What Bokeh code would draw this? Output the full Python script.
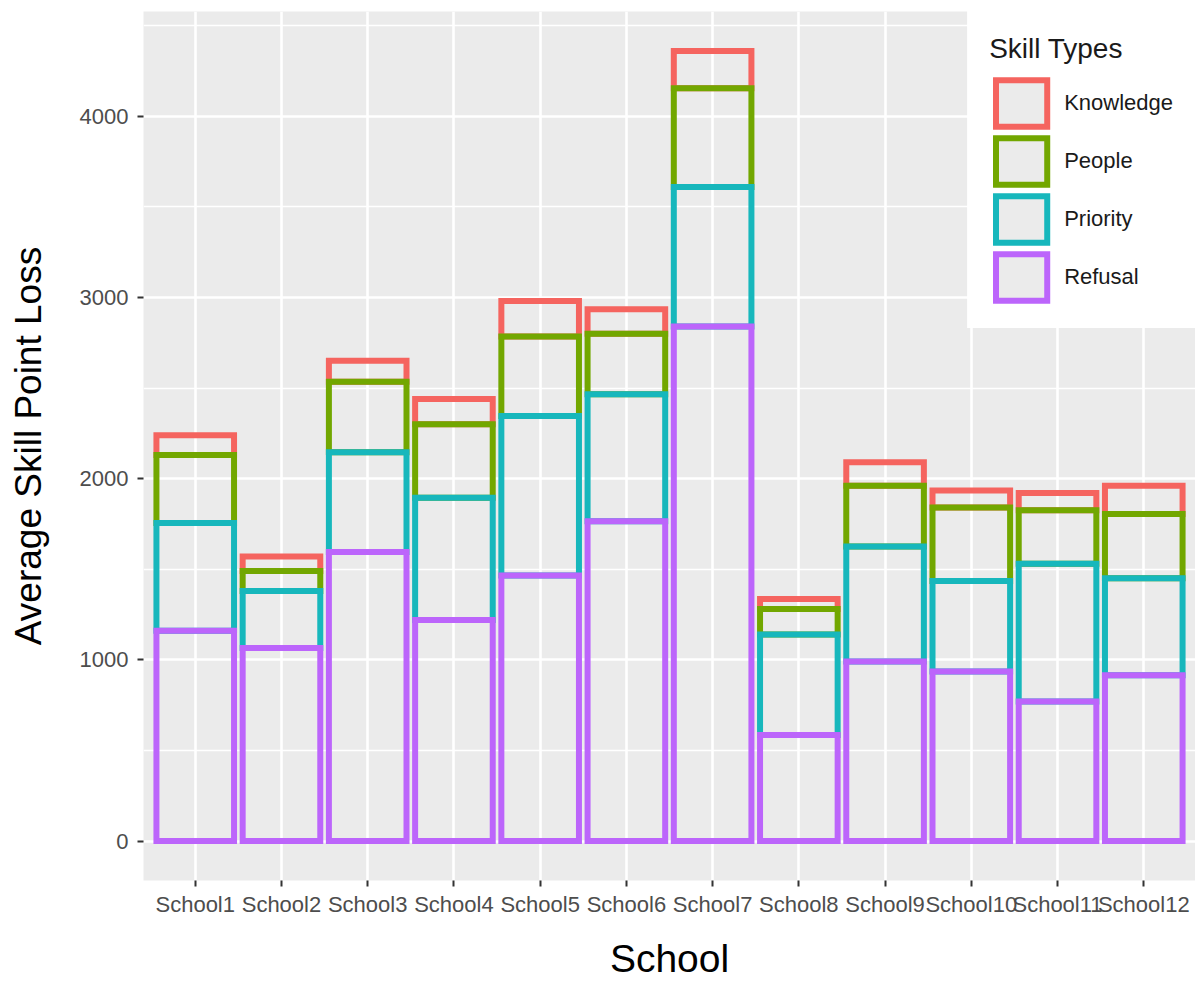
from bokeh.plotting import figure
from bokeh.models import (ColumnDataSource, FactorRange, Range1d, FixedTicker,
                          Legend, LegendItem)
from bokeh.embed import file_html
from bokeh.resources import INLINE

# ---- data ----
schools = ["School1", "School2", "School3", "School4", "School5", "School6",
           "School7", "School8", "School9", "School10", "School11", "School12"]
refusal = [1160, 1065, 1595, 1220, 1465, 1765, 2840, 585, 990, 935, 770, 915]
priority = [595, 315, 550, 675, 880, 700, 770, 555, 635, 500, 760, 535]
people = [375, 110, 390, 405, 440, 335, 545, 140, 335, 405, 295, 355]
knowledge = [110, 80, 115, 140, 195, 135, 205, 55, 130, 95, 95, 155]

skill_types = ["Knowledge", "People", "Priority", "Refusal"]
colors = {"Knowledge": "#F5645F", "People": "#72A700",
          "Priority": "#17B7BC", "Refusal": "#BC65FB"}
y_ticks = [0, 1000, 2000, 3000, 4000]
y_minor = [500, 1500, 2500, 3500, 4500]

FONT = "Liberation Sans"
W, H = 1195, 984
BORDER_L, BORDER_T, BORDER_B = 143, 11, 104

# stacked segments: Refusal at the bottom, Knowledge on top
series = {"Refusal": refusal, "Priority": priority,
          "People": people, "Knowledge": knowledge}
data = {"school": schools}
base = [0] * len(schools)
for name in ["Refusal", "Priority", "People", "Knowledge"]:
    top = [b + v for b, v in zip(base, series[name])]
    data[name + "_bottom"] = base
    data[name + "_top"] = top
    base = top
source = ColumnDataSource(data)

ymax = max(base)
pad = 0.05 * ymax

p = figure(
    x_range=FactorRange(factors=schools, range_padding=0.2 / len(schools),
                        range_padding_units="percent"),
    y_range=Range1d(-pad, ymax + pad),
    width=W, height=H,
    output_backend="svg", toolbar_location=None,
    background_fill_color="#EBEBEB", border_fill_color="white",
    outline_line_color=None,
    min_border=0, min_border_left=BORDER_L, min_border_top=BORDER_T,
    min_border_right=0, min_border_bottom=BORDER_B,
)

# draw Knowledge first so lower segments' edges sit on top
for name in skill_types:
    p.vbar(x="school", bottom=name + "_bottom", top=name + "_top", width=0.9,
           source=source, fill_color=None, line_color=colors[name],
           line_width=6, line_join="miter")

# hidden proxies that give the legend keys their grey fill
proxies = {}
for name in skill_types:
    proxies[name] = p.vbar(
        x="school", bottom=name + "_bottom", top=name + "_top", width=0.9,
        source=source, fill_color="#EBEBEB", line_color=colors[name],
        line_width=6, line_join="miter", visible=False)

legend = Legend(
    items=[LegendItem(label=n, renderers=[proxies[n]]) for n in skill_types],
    location="top_right", title="Skill Types",
    margin=0, padding=22, spacing=0,
    glyph_width=64, glyph_height=58, label_standoff=11,
    label_text_font=FONT, label_text_font_size="22px",
    label_text_color="#1A1A1A",
    title_text_font=FONT, title_text_font_size="28px",
    title_text_font_style="normal", title_text_color="#1A1A1A",
    title_standoff=9,
    border_line_color="white", border_line_alpha=0.0,
    background_fill_color="white", background_fill_alpha=1.0,
    inactive_fill_alpha=0.0,
)
p.add_layout(legend)

# grid
p.xgrid.grid_line_color = "white"
p.xgrid.grid_line_width = 2.6
p.ygrid.grid_line_color = "white"
p.ygrid.grid_line_width = 2.6
p.ygrid.minor_grid_line_color = "white"
p.ygrid.minor_grid_line_width = 1.4

# axes
p.yaxis.ticker = FixedTicker(ticks=y_ticks, minor_ticks=y_minor)
for ax in p.axis:
    ax.axis_line_color = None
    ax.major_tick_line_color = "#333333"
    ax.major_tick_line_width = 2
    ax.major_tick_in = 0
    ax.major_tick_out = 6
    ax.minor_tick_line_color = None
    ax.major_label_text_font = FONT
    ax.major_label_text_font_size = "22px"
    ax.major_label_text_color = "#4D4D4D"
    ax.axis_label_text_font = FONT
    ax.axis_label_text_font_style = "normal"
    ax.axis_label_text_color = "black"

p.xaxis.axis_label = "School"
p.xaxis.axis_label_text_font_size = "39px"
p.xaxis.axis_label_standoff = 17
p.xaxis.major_label_standoff = 5
p.yaxis.axis_label = "Average Skill Point Loss"
p.yaxis.axis_label_text_font_size = "37px"
p.yaxis.axis_label_standoff = 28
p.yaxis.major_label_standoff = 9

open("out.html", "w").write(file_html(p, INLINE, title="Average Skill Point Loss"))
